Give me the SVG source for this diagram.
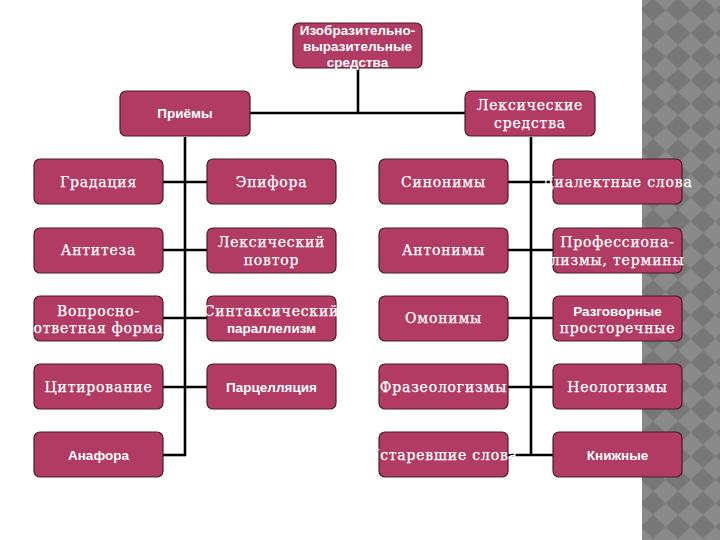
<svg xmlns="http://www.w3.org/2000/svg" width="720" height="540" viewBox="0 0 720 540">
<defs>
<pattern id="dia" x="640.5" y="-2" width="25" height="23.5" patternUnits="userSpaceOnUse">
<rect width="25" height="23.5" fill="#8a8a8a"/>
<polygon points="12.5,0 25,11.75 12.5,23.5 0,11.75" fill="#777777"/>
</pattern>
<style>
.box{fill:#b13b63;stroke:#4d1c2e;stroke-width:1.2}
.ln{stroke:#000;stroke-width:2.6;fill:none}
.s{font-family:"DejaVu Serif","Liberation Serif",serif;font-size:14px;letter-spacing:0.8px;fill:#fff;stroke:#fff;stroke-width:0.25;text-anchor:middle}
.b{font-family:"Liberation Sans",Arial,sans-serif;font-weight:bold;font-size:13.5px;fill:#fff;text-anchor:middle}
</style>
</defs>
<rect width="720" height="540" fill="#fff"/>
<rect x="642" y="0" width="78" height="540" fill="url(#dia)"/>
<g id="connectors" class="ln">
<polyline points="358,68 358,113"/>
<line x1="250" y1="113" x2="465" y2="113"/>
<line x1="185" y1="137" x2="185" y2="456"/>
<line x1="531" y1="137" x2="531" y2="456"/>
<line x1="163" y1="182" x2="207" y2="182"/>
<line x1="163" y1="250" x2="207" y2="250"/>
<line x1="163" y1="318" x2="207" y2="318"/>
<line x1="163" y1="387" x2="207" y2="387"/>
<line x1="163" y1="455" x2="186" y2="455"/>
<line x1="508" y1="182" x2="553" y2="182"/>
<line x1="508" y1="250" x2="553" y2="250"/>
<line x1="508" y1="318" x2="553" y2="318"/>
<line x1="508" y1="387" x2="553" y2="387"/>
<line x1="508" y1="455" x2="553" y2="455"/>
</g>
<g id="n-top"><rect class="box" x="293" y="23" width="129" height="45" rx="6"/>
<text class="b" x="357.5" y="35">Изобразительно-</text>
<text class="b" x="357.5" y="51">выразительные</text>
<text class="b" x="357.5" y="67">средства</text></g>
<g id="n-priemy"><rect class="box" x="120" y="91" width="130" height="45" rx="6"/>
<text class="b" x="185" y="118">Приёмы</text></g>
<g id="n-leks"><rect class="box" x="465" y="91" width="130" height="45" rx="6"/>
<text class="s" x="530" y="110">Лексические</text>
<text class="s" x="530" y="128">средства</text></g>

<g id="n-gradaciya"><rect class="box" x="34" y="159" width="129" height="45" rx="6"/>
<text class="s" x="98.5" y="187">Градация</text></g>
<g id="n-antiteza"><rect class="box" x="34" y="228" width="129" height="45" rx="6"/>
<text class="s" x="98.5" y="255">Антитеза</text></g>
<g id="n-vopros"><rect class="box" x="34" y="296" width="129" height="45" rx="6"/>
<text class="s" x="98.5" y="316">Вопросно-</text>
<text class="s" x="98.5" y="333">ответная форма</text></g>
<g id="n-citir"><rect class="box" x="34" y="364" width="129" height="45" rx="6"/>
<text class="s" x="98.5" y="392">Цитирование</text></g>
<g id="n-anafora"><rect class="box" x="34" y="432" width="129" height="45" rx="6"/>
<text class="b" x="98.5" y="460">Анафора</text></g>

<g id="n-epifora"><rect class="box" x="207" y="159" width="129" height="45" rx="6"/>
<text class="s" x="271.5" y="187">Эпифора</text></g>
<g id="n-povtor"><rect class="box" x="207" y="228" width="129" height="45" rx="6"/>
<text class="s" x="271.5" y="247">Лексический</text>
<text class="s" x="271.5" y="265">повтор</text></g>
<g id="n-sintaks"><rect class="box" x="207" y="296" width="129" height="45" rx="6"/>
<text class="s" x="271.5" y="316">Синтаксический</text>
<text class="b" x="271.5" y="333">параллелизм</text></g>
<g id="n-parcel"><rect class="box" x="207" y="364" width="129" height="45" rx="6"/>
<text class="b" x="271.5" y="392">Парцелляция</text></g>

<g id="n-sinonimy"><rect class="box" x="379" y="159" width="129" height="45" rx="6"/>
<text class="s" x="443.5" y="187">Синонимы</text></g>
<g id="n-antonimy"><rect class="box" x="379" y="228" width="129" height="45" rx="6"/>
<text class="s" x="443.5" y="255">Антонимы</text></g>
<g id="n-omonimy"><rect class="box" x="379" y="296" width="129" height="45" rx="6"/>
<text class="s" x="443.5" y="323">Омонимы</text></g>
<g id="n-frazeo"><rect class="box" x="379" y="364" width="129" height="45" rx="6"/>
<text class="s" x="443.5" y="392">Фразеологизмы</text></g>
<g id="n-ustar"><rect class="box" x="379" y="432" width="129" height="45" rx="6"/>
<text class="s" x="443.5" y="460">Устаревшие слова</text></g>

<g id="n-dialekt"><rect class="box" x="553" y="159" width="129" height="45" rx="6"/>
<text class="s" x="617.5" y="187">Диалектные слова</text></g>
<g id="n-prof"><rect class="box" x="553" y="228" width="129" height="45" rx="6"/>
<text class="s" x="617.5" y="247">Профессиона-</text>
<text class="s" x="617.5" y="265">лизмы, термины</text></g>
<g id="n-razgov"><rect class="box" x="553" y="296" width="129" height="45" rx="6"/>
<text class="b" x="617.5" y="316">Разговорные</text>
<text class="s" x="617.5" y="333">просторечные</text></g>
<g id="n-neolog"><rect class="box" x="553" y="364" width="129" height="45" rx="6"/>
<text class="s" x="617.5" y="392">Неологизмы</text></g>
<g id="n-knizh"><rect class="box" x="553" y="432" width="129" height="45" rx="6"/>
<text class="b" x="617.5" y="460">Книжные</text></g>
</svg>
